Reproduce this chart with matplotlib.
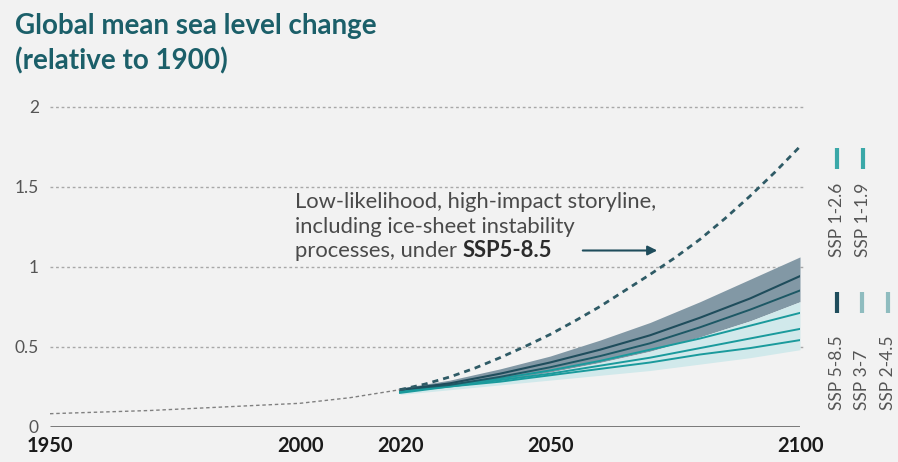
import matplotlib
matplotlib.use("Agg")
import matplotlib.pyplot as plt
from matplotlib.lines import Line2D

# historical observations (relative to 1900)
hist_years = [1950, 1960, 1970, 1980, 1990, 2000, 2010, 2020]
hist_level = [0.08, 0.09, 0.10, 0.115, 0.13, 0.145, 0.18, 0.23]

proj_years = [2020, 2025, 2030, 2035, 2040, 2045, 2050, 2055, 2060,
              2065, 2070, 2075, 2080, 2085, 2090, 2095, 2100]
ssp585 = [0.23, 0.25, 0.27, 0.30, 0.33, 0.365, 0.40, 0.44, 0.48,
          0.525, 0.57, 0.625, 0.68, 0.74, 0.80, 0.87, 0.94]
ssp370 = [0.23, 0.245, 0.26, 0.285, 0.31, 0.34, 0.37, 0.405, 0.44,
          0.48, 0.52, 0.57, 0.62, 0.675, 0.73, 0.79, 0.85]
ssp245 = [0.22, 0.24, 0.26, 0.28, 0.30, 0.325, 0.35, 0.38, 0.41,
          0.445, 0.48, 0.515, 0.55, 0.59, 0.63, 0.67, 0.71]
ssp126 = [0.22, 0.235, 0.25, 0.27, 0.29, 0.31, 0.33, 0.355, 0.38,
          0.405, 0.43, 0.46, 0.49, 0.52, 0.55, 0.58, 0.61]
ssp119 = [0.21, 0.23, 0.25, 0.265, 0.28, 0.30, 0.32, 0.34, 0.36,
          0.38, 0.40, 0.425, 0.45, 0.47, 0.49, 0.515, 0.54]

# likely ranges
high_top = [0.24, 0.265, 0.29, 0.325, 0.36, 0.40, 0.44, 0.49, 0.54,
            0.595, 0.65, 0.715, 0.78, 0.85, 0.92, 0.99, 1.06]
high_bottom = [0.22, 0.235, 0.25, 0.27, 0.29, 0.315, 0.34, 0.37, 0.40,
               0.435, 0.47, 0.515, 0.56, 0.61, 0.66, 0.72, 0.78]
low_bottom = [0.20, 0.215, 0.23, 0.245, 0.26, 0.275, 0.29, 0.305, 0.32,
              0.335, 0.35, 0.37, 0.39, 0.41, 0.43, 0.455, 0.48]

# low-likelihood, high-impact storyline
story_level = [0.23, 0.265, 0.31, 0.365, 0.43, 0.50, 0.575, 0.66, 0.75,
               0.85, 0.95, 1.055, 1.17, 1.30, 1.44, 1.59, 1.75]

x_ticks = [1950, 2000, 2020, 2050, 2100]
y_ticks = [0, 0.5, 1, 1.5, 2]
y_labels = ["0", "0.5", "1", "1.5", "2"]

BG = "#f2f2f2"
TITLE_C = "#1b5f69"
DARK = "#1f4d5c"
TEAL = "#1a9a9c"
LIGHT_LEG = "#8fbcbf"
TEAL_LEG = "#3aa8a8"
FONT = "Lato"

W, H = 898, 462
fig = plt.figure(figsize=(W / 100, H / 100), dpi=100, facecolor=BG)
ax = fig.add_axes([50 / W, 1 - 426.5 / H, 750 / W, 320 / H])
ax.set_facecolor(BG)


def px(x, y):
    return x / W, 1 - y / H


# grid
for g in y_ticks[1:]:
    ax.plot([1950, 2101], [g, g], color="#a8a8a8", lw=1, dashes=(2, 2), clip_on=False, zorder=1)
ax.plot([1950, 2100], [0, 0], color="#555555", lw=1.8, solid_capstyle="butt", zorder=5)

# ranges
ax.fill_between(proj_years, high_bottom, high_top, color="#8298a5", lw=0, zorder=2)
ax.fill_between(proj_years, low_bottom, high_bottom, color="#d1e9eb", lw=0, zorder=2)

# scenario medians
ax.plot(proj_years, ssp119, color=TEAL, lw=1.4, zorder=3)
ax.plot(proj_years, ssp126, color=TEAL, lw=1.4, zorder=3)
ax.plot(proj_years, ssp245, color=TEAL, lw=1.4, zorder=3)
ax.plot(proj_years, ssp370, color="#1d5865", lw=1.4, zorder=3)
ax.plot(proj_years, ssp585, color=DARK, lw=1.5, zorder=3)

ax.plot(hist_years, hist_level, color="#808080", lw=1, dashes=(2.5, 2), zorder=3)
ax.plot(proj_years, story_level, color="#2f5b66", lw=2, dashes=(2.2, 1.8), zorder=4)

ax.set_xlim(1950, 2100)
ax.set_ylim(0, 2)
for s in ax.spines.values():
    s.set_visible(False)
ax.set_xticks(x_ticks)
ax.set_xticklabels([str(t) for t in x_ticks], fontfamily=FONT, fontweight="bold",
                   fontsize=14.5, color="#1a1a1a")
ax.set_yticks(y_ticks)
ax.set_yticklabels(y_labels, fontfamily=FONT, fontsize=12.5, color="#555555")
ax.tick_params(axis="x", length=0, pad=7)
ax.tick_params(axis="y", length=0, pad=8)

# title
fig.text(*px(15, 34), "Global mean sea level change", fontfamily=FONT, fontweight="bold",
         fontsize=20, color=TITLE_C, va="baseline")
fig.text(*px(15, 69), "(relative to 1900)", fontfamily=FONT, fontweight="bold",
         fontsize=20, color=TITLE_C, va="baseline")

# storyline annotation
note_kw = dict(fontfamily=FONT, fontsize=15.8, color="#4a4a4a", va="baseline")
ax.text(1999, 1.366, "Low-likelihood, high-impact storyline,", **note_kw)
ax.text(1999, 1.21, "including ice-sheet instability", **note_kw)
t3 = ax.text(1999, 1.057, "processes, under ", **note_kw)
fig.canvas.draw()
bb = t3.get_window_extent()
x_end = ax.transData.inverted().transform((bb.x1, bb.y0))[0]
ax.text(x_end, 1.057, "SSP5-8.5", fontfamily=FONT, fontsize=15.8, fontweight="bold",
        color="#2b2b2b", va="baseline")
ax.annotate("", xy=(2072, 1.10), xytext=(2056, 1.10),
            arrowprops=dict(arrowstyle="-|>", color=DARK, lw=1.5, mutation_scale=14))

# legend (vertical)
leg_items = [
    ("SSP 1-2.6", TEAL_LEG, 837, 148, 257),
    ("SSP 1-1.9", TEAL_LEG, 863, 148, 257),
    ("SSP 5-8.5", DARK, 837, 292, 410),
    ("SSP 3-7", LIGHT_LEG, 862, 292, 410),
    ("SSP 2-4.5", LIGHT_LEG, 888, 292, 410),
]
for label, col, x, ybar, ytxt in leg_items:
    x0, y0 = px(x, ybar)
    x1, y1 = px(x, ybar + 21)
    fig.add_artist(Line2D([x0, x1], [y0, y1], transform=fig.transFigure, color=col,
                          lw=3, solid_capstyle="butt"))
    fig.text(*px(x, ytxt), label, rotation=90, fontfamily=FONT, fontsize=12.5,
             color="#555555", ha="center", va="bottom")

fig.savefig("out.png", dpi=100, facecolor=BG)
